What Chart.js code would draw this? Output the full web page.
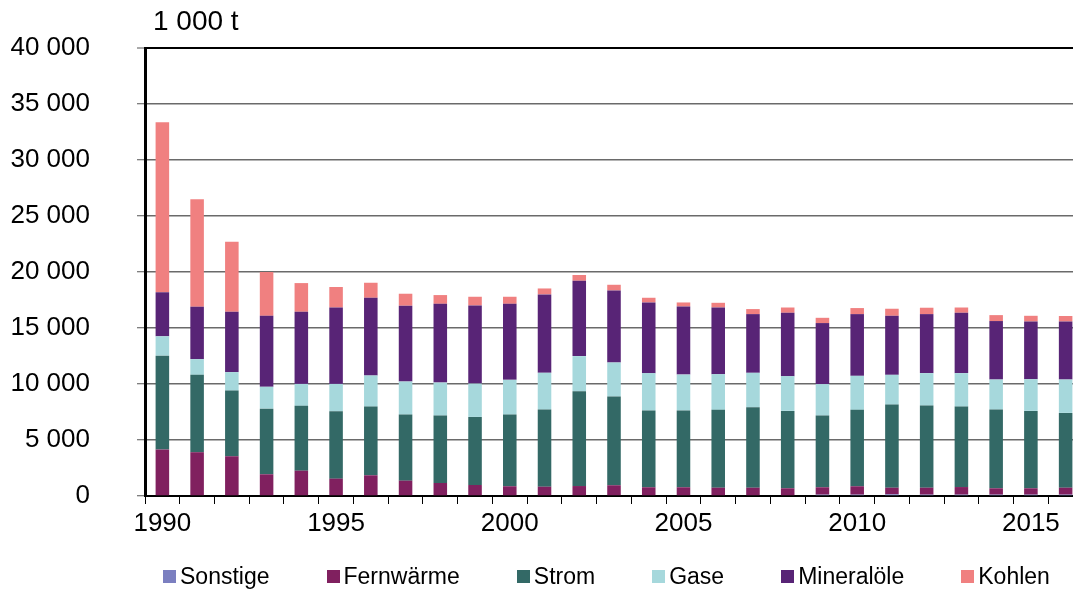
<!DOCTYPE html>
<html>
<head>
<meta charset="utf-8">
<script src="https://cdn.jsdelivr.net/npm/chart.js@4.4.1/dist/chart.umd.min.js"></script>
<style>
  html, body { margin: 0; padding: 0; background: #fff; overflow: hidden; }
  #wrap { position: relative; width: 1073px; height: 592px; overflow: hidden; }
  #chart { position: absolute; left: 0; top: 0; }
  #unit { position: absolute; left: 153px; top: 5px; font: 28px "Liberation Sans", Arial, sans-serif; line-height: 32px; color: #000; }
  #legend { position: absolute; left: 163px; top: 563px; display: flex; align-items: center;
            font: 23px "Liberation Sans", Arial, sans-serif; line-height: 27px; color: #000; }
  #legend .item { display: flex; align-items: center; margin-right: 57px; white-space: nowrap; }
  #legend .box { width: 13px; height: 13px; margin-right: 4px; }
</style>
</head>
<body>
<div id="wrap">
  <canvas id="chart" width="1083" height="592"></canvas>
  <div id="unit">1 000 t</div>
  <div id="legend"></div>
</div>
<script>
const years = ['1990', '1991', '1992', '1993', '1994', '1995', '1996', '1997', '1998', '1999',
  '2000', '2001', '2002', '2003', '2004', '2005', '2006', '2007', '2008', '2009',
  '2010', '2011', '2012', '2013', '2014', '2015', '2016'];

const sonstige = [0, 0, 0, 0, 0, 0, 0, 0, 0, 0, 0, 0, 0, 0, 0, 0, 0, 0, 0,
  120, 120, 150, 120, 120, 120, 120, 120];
const fernwaerme = [4150, 3910, 3550, 1940, 2260, 1550, 1850, 1370, 1160, 980,
  870, 830, 890, 960, 780, 780, 740, 740, 690, 660,
  750, 590, 620, 680, 570, 570, 620];
const strom = [8380, 6910, 5860, 5860, 5790, 6020, 6130, 5900, 6020, 6080,
  6400, 6890, 8470, 7920, 6850, 6850, 6950, 7190, 6910, 6400,
  6820, 7420, 7330, 7180, 7030, 6910, 6680];
const gase = [1730, 1400, 1650, 1950, 1960, 2440, 2780, 2950, 2950, 2980,
  3100, 3280, 3130, 3040, 3340, 3210, 3190, 3070, 3100, 2810,
  3040, 2660, 2900, 2990, 2680, 2830, 2980];
const mineraloele = [3930, 4680, 5390, 6340, 6440, 6820, 6940, 6770, 7030, 6970,
  6790, 7000, 6730, 6430, 6310, 6080, 5950, 5240, 5660, 5450,
  5510, 5270, 5270, 5390, 5220, 5150, 5180];
const kohlen = [15180, 9590, 6260, 3910, 2560, 1830, 1340, 1070, 780, 780,
  630, 530, 510, 510, 420, 360, 420, 450, 470, 470,
  540, 630, 570, 470, 530, 510, 490];

const yTicks = [0, 5000, 10000, 15000, 20000, 25000, 30000, 35000, 40000];

function fmt(v) {
  return String(v).replace(/\B(?=(\d{3})+(?!\d))/g, ' ');
}

const fontFamily = '"Liberation Sans", Arial, sans-serif';

const ctx = document.getElementById('chart').getContext('2d');
const chart = new Chart(ctx, {
  type: 'bar',
  data: {
    labels: years,
    datasets: [
      { label: 'Sonstige', data: sonstige, backgroundColor: '#7b7fc0' },
      { label: 'Fernwärme', data: fernwaerme, backgroundColor: '#80205f' },
      { label: 'Strom', data: strom, backgroundColor: '#336966' },
      { label: 'Gase', data: gase, backgroundColor: '#a6d8dc' },
      { label: 'Mineralöle', data: mineraloele, backgroundColor: '#582476' },
      { label: 'Kohlen', data: kohlen, backgroundColor: '#f08080' },
    ],
  },
  options: {
    responsive: false,
    animation: false,
    devicePixelRatio: 1,
    layout: { padding: { left: 0, top: 48, right: 0, bottom: 0 } },
    datasets: {
      bar: { categoryPercentage: 1, barPercentage: 0.39, borderWidth: 0 }
    },
    scales: {
      x: {
        stacked: true,
        grid: {
          offset: true,
          drawOnChartArea: false,
          drawTicks: true,
          tickLength: 8,
          tickColor: '#000',
          tickWidth: 1,
        },
        border: { color: '#000', width: 2 },
        ticks: {
          autoSkip: false,
          maxRotation: 0,
          padding: 4,
          color: '#000',
          font: { family: fontFamily, size: 26 },
          callback: function (value, index) {
            const y = years[index];
            return Number(y) % 5 === 0 ? y : '';
          },
        },
        afterFit: function (scale) { scale.height = 96; },
      },
      y: {
        stacked: true,
        min: 0,
        max: 40000,
        afterBuildTicks: function (scale) {
          scale.ticks = yTicks.map(v => ({ value: v }));
        },
        grid: {
          color: ctx => (ctx.tick && ctx.tick.value === 40000 ? '#000' : '#6a6a6a'),
          lineWidth: ctx => (ctx.tick && ctx.tick.value === 40000 ? 2 : 1.5),
          tickLength: 8,
          tickColor: '#555',
          tickWidth: 1,
        },
        border: { color: '#000', width: 3 },
        ticks: {
          padding: 47,
          color: '#000',
          font: { family: fontFamily, size: 26 },
          callback: v => fmt(v),
        },
        afterFit: function (scale) {
          scale.width = 145;
          scale.paddingTop = 0;
          scale.paddingBottom = 0;
        },
      },
    },
    plugins: {
      legend: { display: false },
      tooltip: { enabled: false },
    },
  },
});

// HTML legend built from the chart's datasets
const legendEl = document.getElementById('legend');
chart.data.datasets.forEach(ds => {
  const item = document.createElement('div');
  item.className = 'item';
  const box = document.createElement('span');
  box.className = 'box';
  box.style.background = ds.backgroundColor;
  const txt = document.createElement('span');
  txt.textContent = ds.label;
  item.appendChild(box);
  item.appendChild(txt);
  legendEl.appendChild(item);
});
</script>
</body>
</html>
